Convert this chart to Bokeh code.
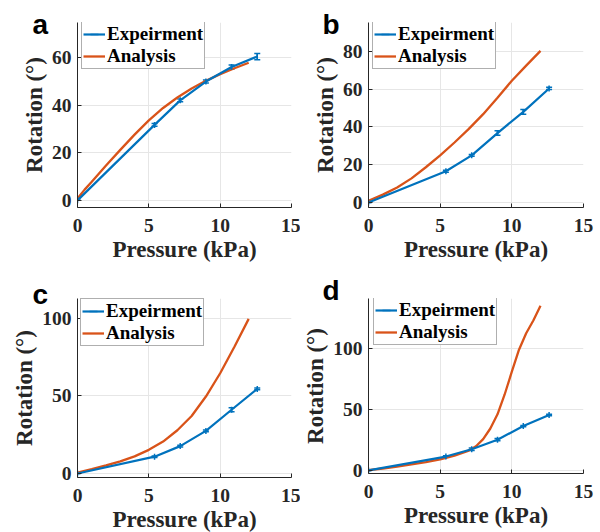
import numpy as np
from bokeh.plotting import figure
from bokeh.models import (Range1d, FixedTicker, Legend, LegendItem,
                          Whisker, TeeHead, ColumnDataSource)
from bokeh.layouts import gridplot
from bokeh.embed import file_html
from bokeh.resources import INLINE

# ---------------- data ----------------
pressure_exp = [0, 5.4, 7.2, 9.0, 10.8, 12.6]

rot_exp_a = [0, 31.7, 42.0, 49.9, 56.0, 60.4]
err_a = [0, 0.6, 0.6, 0.6, 0.8, 1.3]
pressure_ana_a = [0, 0.5, 1, 2, 3, 4, 5, 6, 7, 8, 9, 10, 11, 12]
rot_ana_a = [0.8, 4.5, 7.8, 14.6, 21.2, 27.6, 33.6, 38.8, 43.2, 47.0, 50.2, 53.0, 55.5, 57.8]

rot_exp_b = [0, 16.6, 25.0, 36.8, 48.0, 60.4]
err_b = [0, 0.5, 0.5, 1.2, 1.3, 0.6]
pressure_ana_b = [0, 1, 2, 3, 4, 5, 6, 7, 8, 9, 10, 11, 12]
rot_ana_b = [1.0, 4.2, 8.0, 12.8, 18.7, 25.0, 31.8, 39.0, 46.8, 55.5, 64.5, 72.5, 80.3]

rot_exp_c = [0, 10.8, 17.6, 27.4, 41.0, 54.4]
err_c = [0, 0.5, 0.5, 0.6, 1.3, 0.6]
pressure_ana_c = [0, 1, 2, 3, 4, 5, 6, 7, 8, 9, 10, 11, 12]
rot_ana_c = [0.5, 2.8, 5.2, 7.8, 11.0, 15.2, 20.5, 27.8, 37.0, 49.5, 64.5, 81.5, 99.5]

rot_exp_d = [0, 11.4, 17.4, 25.2, 36.4, 45.5]
err_d = [0, 0.6, 1.0, 0.9, 0.5, 0.6]
pressure_ana_d = [0, 1, 2, 3, 4, 5, 6, 7, 7.5, 8, 8.5, 9, 9.5, 10, 10.5, 11, 11.5, 12]
rot_ana_d = [0.3, 1.6, 3.2, 4.9, 6.8, 9.0, 12.2, 16.3, 19.8, 25.7, 34.4, 46.0, 62.3, 81.0, 99.0, 112.5, 123.0, 135.0]

x_ticks = [0, 5, 10, 15]
y_ticks_a = [0, 20, 40, 60]
y_ticks_b = [0, 20, 40, 60, 80]
y_ticks_c = [0, 50, 100]
y_ticks_d = [0, 50, 100]

labels = ["a", "b", "c", "d"]
series_names = ["Expeirment", "Analysis"]
x_label = "Pressure (kPa)"
y_label = "Rotation (°)"

BLUE = "#0072BD"
ORANGE = "#D95319"
AXC = "#262626"
SERIF = "Liberation Serif"


def panel(letter, xe, ye, err, xa, ya, yticks, ylo, yhi, left, right, top, fh, fw,
          leg_xy, title_shift, title_drop):
    p = figure(frame_width=fw, frame_height=fh, output_backend="svg",
               toolbar_location=None, x_range=Range1d(0, 15),
               y_range=Range1d(ylo, yhi),
               min_border_left=left, min_border_right=right,
               min_border_top=top, min_border_bottom=59)
    p.outline_line_color = None
    p.background_fill_color = "white"
    p.border_fill_color = "white"
    for ax in (p.xaxis[0], p.yaxis[0]):
        ax.axis_line_color = AXC
        ax.axis_line_width = 1
        ax.major_tick_line_color = AXC
        ax.major_tick_in = 4
        ax.major_tick_out = 0
        ax.minor_tick_line_color = None
        ax.major_label_text_font = SERIF
        ax.major_label_text_font_style = "bold"
        ax.major_label_text_font_size = "19.5px"
        ax.major_label_text_color = AXC
        ax.axis_label_text_font = SERIF
        ax.axis_label_text_font_style = "bold"
        ax.axis_label_text_font_size = "23px"
        ax.axis_label_text_color = AXC
    p.xaxis.ticker = FixedTicker(ticks=x_ticks)
    p.yaxis.ticker = FixedTicker(ticks=yticks)
    p.xaxis.major_label_standoff = 11
    p.yaxis.major_label_standoff = 6
    p.xaxis.axis_label_standoff = 2
    p.yaxis.axis_label_standoff = 2
    p.xaxis.axis_label = x_label
    p.yaxis.axis_label = y_label
    p.grid.grid_line_color = "#e6e6e6"
    p.grid.grid_line_width = 1

    # panel letter
    p.title.text = letter
    p.title.text_font = "Liberation Sans"
    p.title.text_font_style = "bold"
    p.title.text_font_size = "28px"
    p.title.text_color = "black"
    p.title.align = "left"
    p.title.offset = title_shift
    p.title.standoff = title_drop

    ra = p.line(xa, ya, line_color=ORANGE, line_width=2.3)
    re = p.line(xe, ye, line_color=BLUE, line_width=2.2)
    src = ColumnDataSource(dict(x=xe, y=ye,
                                upper=[v + e for v, e in zip(ye, err)],
                                lower=[v - e for v, e in zip(ye, err)]))
    wh = Whisker(base="x", upper="upper", lower="lower", source=src,
                 line_color=BLUE, line_width=1.5,
                 upper_head=TeeHead(size=6, line_color=BLUE, line_width=1.5),
                 lower_head=TeeHead(size=6, line_color=BLUE, line_width=1.5))
    p.add_layout(wh)
    rd = p.scatter("x", "y", source=src, marker="dash", size=6, angle=np.pi / 2,
                   line_color=BLUE, line_width=1.5)

    leg = Legend(items=[LegendItem(label=series_names[0], renderers=[re, rd]),
                        LegendItem(label=series_names[1], renderers=[ra])],
                 location=leg_xy, orientation="vertical")
    leg.label_text_font = SERIF
    leg.label_text_font_style = "bold"
    leg.label_text_font_size = "19px"
    leg.label_text_color = "black"
    leg.glyph_width = 22
    leg.glyph_height = 20
    leg.label_height = 20
    leg.label_standoff = 2
    leg.spacing = 0
    leg.padding = 1
    leg.margin = 0
    leg.border_line_color = "#5f5f5f"
    leg.border_line_width = 1
    leg.background_fill_color = "white"
    leg.background_fill_alpha = 1
    p.add_layout(leg)
    return p


pa = panel(labels[0], pressure_exp, rot_exp_a, err_a, pressure_ana_a, rot_ana_a,
           y_ticks_a, -3, 74.7, 77, 9, 22, 185, 214, (4, 138), -45, -34)
pb = panel(labels[1], pressure_exp, rot_exp_b, err_b, pressure_ana_b, rot_ana_b,
           y_ticks_b, -2.6, 95.3, 64, 17, 22, 185, 215, (4, 138), -46, -34)
pc = panel(labels[2], pressure_exp, rot_exp_c, err_c, pressure_ana_c, rot_ana_c,
           y_ticks_c, -2.6, 112.6, 77, 9, 28, 179, 214, (3, 131), -45, -22)
pd = panel(labels[3], pressure_exp, rot_exp_d, err_d, pressure_ana_d, rot_ana_d,
           y_ticks_d, -2.5, 141, 64, 17, 32, 175, 215, (5, 128), -46, -14)

grid = gridplot([[pa, pb], [pc, pd]], toolbar_location=None)

open("out.html", "w").write(file_html(grid, INLINE))
